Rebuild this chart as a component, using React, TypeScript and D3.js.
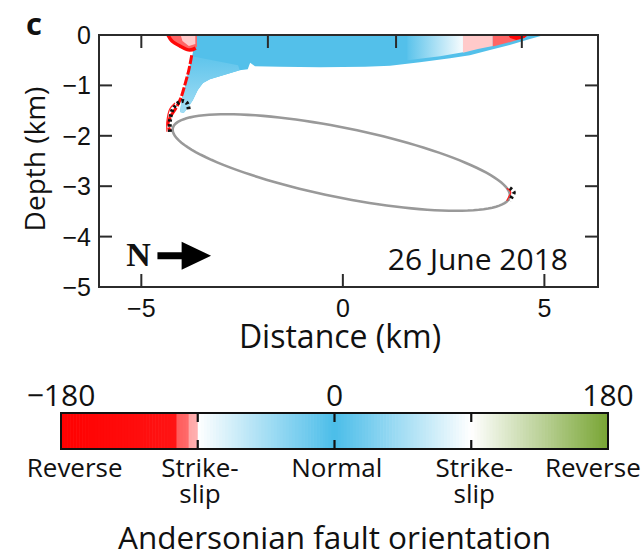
import React from "react";
import * as d3 from "d3";

// ---- axes ----
const xDomain = [-6.05, 6.33];
const yDomain = [-5, 0];
const xTicks = [-5, 0, 5];
const xTopTicks = [-5, -1.86, 1.32, 4.44];
const yTicks = [0, -1, -2, -3, -4, -5];

// ---- colour map for rake (degrees) ----
const rakeStops = [-180, -103.5, -103, -96.8, -96.5, -90.3, -90, 0, 90, 180];
const rakeColors = ["#ff0000", "#ff1414", "#ff5c5c", "#ff6a6a", "#ffa4a4", "#ffb0b0", "#ffffff", "#4bbde9", "#ffffff", "#78a534"];
const barTicks = [-180, 0, 180];
const barInnerTicks = [-90, 0, 90];
// label anchors along the bar, in degrees
const barLabels = [
  { v: -171, lines: ["Reverse"] },
  { v: -88.5, lines: ["Strike-", "slip"] },
  { v: 1.5, lines: ["Normal"] },
  { v: 92, lines: ["Strike-", "slip"] },
  { v: 170, lines: ["Reverse"] },
];

// ---- slip field patches: [distance km, depth km] and rake ----
const normalCore: [number, number][] = [
  [-3.65, 0], [5.0, 0], [4.64, -0.08], [4.14, -0.2], [3.65, -0.3],
  [3.15, -0.4], [2.66, -0.46], [1.91, -0.54], [1.17, -0.61], [0.55, -0.63],
  [-0.57, -0.64], [-1.56, -0.63], [-2.18, -0.62], [-2.3, -0.55], [-2.36, -0.68],
  [-2.56, -0.7], [-2.93, -0.79], [-3.3, -0.88], [-3.47, -0.95], [-3.6, -1.09],
  [-3.72, -1.29], [-3.85, -1.45], [-3.95, -1.55], [-4.04, -1.53], [-4.0, -1.29],
  [-3.92, -1.05], [-3.85, -0.79], [-3.77, -0.54], [-3.72, -0.34], [-3.7, -0.14],
];
const normalCoreRake = -4;
const leftWedge: [number, number][] = [
  [-3.75, -0.42], [-2.6, -0.6], [-2.56, -0.7], [-2.93, -0.79], [-3.3, -0.88],
  [-3.47, -0.95], [-3.6, -1.09], [-3.72, -1.29], [-3.85, -1.45], [-3.95, -1.55],
  [-4.04, -1.53], [-4.0, -1.29], [-3.92, -1.05], [-3.85, -0.79], [-3.8, -0.6],
];
const leftWedgeRake = [-12, -44];
const rightFade: [number, number][] = [
  [1.6, 0], [2.98, 0], [2.98, -0.34], [2.41, -0.42], [1.6, -0.5],
];
const rightFadeRake = [-8, -86];
const whitePatch: [number, number][] = [
  [2.98, 0], [3.72, 0], [3.72, -0.22], [3.35, -0.28], [2.98, -0.35],
];
const whitePatchRake = -90.2;
const pinkPatch: [number, number][] = [
  [3.72, 0], [4.6, 0], [4.5, -0.06], [4.2, -0.13], [3.72, -0.23],
];
const pinkPatchRake = -99;
const redPatchRight: [number, number][] = [
  [4.1, 0], [4.6, 0], [4.5, -0.06], [4.3, -0.1], [4.15, -0.06],
];
const redPatchRake = -150;
// shallow western lobe
const pinkPatchLeft: [number, number][] = [
  [-4.34, 0], [-3.62, 0], [-3.62, -0.24], [-3.8, -0.3], [-4.04, -0.22], [-4.24, -0.1],
];
const whitePatchLeft: [number, number][] = [
  [-4.02, -0.01], [-3.66, -0.01], [-3.66, -0.18], [-3.82, -0.22], [-3.98, -0.12],
];
const redRimLeft: [number, number][] = [
  [-4.34, 0], [-4.24, -0.12], [-4.04, -0.22], [-3.8, -0.3], [-3.65, -0.26],
];

// reverse-slip rim along the western edge
const westRim: [number, number][] = [
  [-3.75, -0.4], [-3.82, -0.69], [-3.92, -0.99], [-4.02, -1.25], [-4.14, -1.45],
  [-4.27, -1.61], [-4.34, -1.77], [-4.29, -1.9],
];
// aftershock traces
const westQuakes: [number, number][] = [
  [-4.29, -1.92], [-4.29, -1.71], [-4.22, -1.47], [-4.09, -1.35], [-3.97, -1.31],
  [-3.87, -1.35], [-3.82, -1.49],
];
const eastQuakes: [number, number][] = [
  [4.14, -3.04], [4.24, -3.12], [4.19, -3.21], [4.14, -3.29],
];

// ---- source ellipse ----
const ellipseCenter = [-0.04, -2.53];
const ellipseMajor = [4.18, -0.68];
const ellipseMinor = [0.174, 0.675];

const W = 641;
const H = 558;
const plot = { left: 99, right: 598, top: 35, bottom: 287 };
const bar = { left: 61, right: 608, top: 413, bottom: 449 };

const labelFont = "'Open Sans', 'DejaVu Sans', sans-serif";
const tickFont = "'Liberation Sans', Arial, sans-serif";
const axisColor = "#2b2b2b";

export default function App() {
  const x = d3.scaleLinear().domain(xDomain).range([plot.left, plot.right]);
  const y = d3.scaleLinear().domain(yDomain).range([plot.bottom, plot.top]);
  const rakeColor = d3
    .scaleLinear<string>()
    .domain(rakeStops)
    .range(rakeColors)
    .interpolate(d3.interpolateRgb);
  const bx = d3.scaleLinear().domain([-180, 180]).range([bar.left, bar.right]);

  const poly = (pts: [number, number][]) =>
    d3.line<[number, number]>().x((d) => x(d[0])).y((d) => y(d[1]))(pts) + "Z";
  const path = (pts: [number, number][], curve = d3.curveCatmullRom) =>
    d3.line<[number, number]>().x((d) => x(d[0])).y((d) => y(d[1])).curve(curve)(pts) || "";

  const ellipsePts: [number, number][] = d3.range(0, 361, 3).map((deg) => {
    const t = (deg * Math.PI) / 180;
    return [
      ellipseCenter[0] + Math.cos(t) * ellipseMajor[0] + Math.sin(t) * ellipseMinor[0],
      ellipseCenter[1] + Math.cos(t) * ellipseMajor[1] + Math.sin(t) * ellipseMinor[1],
    ];
  });

  const barSteps = d3.range(-180, 180, 2);
  const tickLen = 13;
  const fmt = (t: number) => (t < 0 ? "\u2212" + Math.abs(t) : String(t));

  return (
    <svg
      width={W}
      height={H}
      viewBox={`0 0 ${W} ${H}`}
      style={{ position: "absolute", left: 0, top: 0, background: "#fff" }}
    >
      <defs>
        <linearGradient id="wedgeGrad" x1="0" y1={y(-0.5)} x2="0" y2={y(-1.55)} gradientUnits="userSpaceOnUse">
          <stop offset="0" stopColor={rakeColor(leftWedgeRake[0])} />
          <stop offset="1" stopColor={rakeColor(leftWedgeRake[1])} />
        </linearGradient>
        <linearGradient id="fadeGrad" x1={x(1.6)} y1="0" x2={x(2.98)} y2="0" gradientUnits="userSpaceOnUse">
          <stop offset="0" stopColor={rakeColor(rightFadeRake[0])} />
          <stop offset="1" stopColor={rakeColor(rightFadeRake[1])} />
        </linearGradient>
        <clipPath id="plotClip">
          <rect x={plot.left} y={plot.top} width={plot.right - plot.left} height={plot.bottom - plot.top} />
        </clipPath>
      </defs>

      {/* panel letter */}
      <text x={26} y={35} fontFamily={labelFont} fontWeight={700} fontSize={31} fill="#111">c</text>

      {/* slip field */}
      <g clipPath="url(#plotClip)">
        <path d={poly(normalCore)} fill={rakeColor(normalCoreRake)} />
        <path d={poly(leftWedge)} fill="url(#wedgeGrad)" />
        <path d={poly(rightFade)} fill="url(#fadeGrad)" />
        <path d={poly(whitePatch)} fill={rakeColor(whitePatchRake)} />
        <path d={poly(pinkPatch)} fill={rakeColor(pinkPatchRake)} />
        <path d={poly(redPatchRight)} fill={rakeColor(redPatchRake)} />
        <path d={poly(pinkPatchLeft)} fill={rakeColor(pinkPatchRake)} />
        <path d={poly(whitePatchLeft)} fill={rakeColor(whitePatchRake)} />
        <path d={path(redRimLeft)} fill="none" stroke={rakeColor(redPatchRake)} strokeWidth={3.5} />
        <path
          d={path(westRim)}
          fill="none"
          stroke={rakeColor(redPatchRake)}
          strokeWidth={3}
          strokeDasharray="9 2"
        />
        <path d={poly(ellipsePts)} fill="none" stroke="#999" strokeWidth={2.6} />
        <path
          d={path(westQuakes)}
          fill="none"
          stroke="#111"
          strokeWidth={4}
          strokeDasharray="2.5 2.5"
        />
        <path d={path(westQuakes.slice(0, 4))} fill="none" stroke="#ff2020" strokeWidth={1.2} transform="translate(-3,0)" />
        <path
          d={path(eastQuakes)}
          fill="none"
          stroke="#111"
          strokeWidth={4}
          strokeDasharray="2.5 2.5"
        />
        <path d={path(eastQuakes)} fill="none" stroke="#ff2020" strokeWidth={1.2} transform="translate(-3,0)" />
      </g>

      {/* frame and ticks */}
      <rect
        x={plot.left}
        y={plot.top}
        width={plot.right - plot.left}
        height={plot.bottom - plot.top}
        fill="none"
        stroke={axisColor}
        strokeWidth={2}
      />
      {xTicks.map((t) => (
        <g key={"xb" + t}>
          <line x1={x(t)} x2={x(t)} y1={plot.bottom} y2={plot.bottom - tickLen} stroke={axisColor} strokeWidth={2} />
          <text x={x(t)} y={plot.bottom + 30} textAnchor="middle" fontFamily={tickFont} fontSize={25} fill="#111">
            {fmt(t)}
          </text>
        </g>
      ))}
      {xTopTicks.map((t) => (
        <line key={"xt" + t} x1={x(t)} x2={x(t)} y1={plot.top} y2={plot.top + tickLen} stroke={axisColor} strokeWidth={2} />
      ))}
      {yTicks.map((t) => (
        <g key={"y" + t}>
          <line x1={plot.left} x2={plot.left + tickLen} y1={y(t)} y2={y(t)} stroke={axisColor} strokeWidth={2} />
          <line x1={plot.right} x2={plot.right - tickLen} y1={y(t)} y2={y(t)} stroke={axisColor} strokeWidth={2} />
          <text x={plot.left - 8} y={y(t) + 9} textAnchor="end" fontFamily={tickFont} fontSize={25} fill="#111">
            {fmt(t)}
          </text>
        </g>
      ))}

      {/* axis titles */}
      <text x={x(-0.07)} y={348} textAnchor="middle" fontFamily={labelFont} fontSize={32} fill="#111">
        Distance (km)
      </text>
      <text
        transform={`translate(45, 159) rotate(-90)`}
        textAnchor="middle"
        fontFamily={labelFont}
        fontSize={28}
        fill="#111"
      >
        Depth (km)
      </text>

      {/* north arrow and date */}
      <text x={x(-5.07)} y={y(-4.58)} textAnchor="middle" fontFamily="'Liberation Serif', 'DejaVu Serif', serif" fontWeight={700} fontSize={34} fill="#111">
        N
      </text>
      <path
        d={`M${x(-4.6)},${y(-4.31)} L${x(-4.0)},${y(-4.31)} L${x(-4.0)},${y(-4.1)} L${x(-3.27)},${y(-4.38)} L${x(-4.0)},${y(-4.66)} L${x(-4.0)},${y(-4.45)} L${x(-4.6)},${y(-4.45)} Z`}
        fill="#000"
      />
      <text x={plot.right - 30} y={y(-4.66)} textAnchor="end" fontFamily={labelFont} fontSize={30} fill="#111">
        26 June 2018
      </text>

      {/* colour bar */}
      {barSteps.map((v) => (
        <rect key={"b" + v} x={bx(v)} y={bar.top} width={bx(v + 2) - bx(v) + 0.6} height={bar.bottom - bar.top} fill={rakeColor(v + 1)} />
      ))}
      <rect x={bar.left} y={bar.top} width={bar.right - bar.left} height={bar.bottom - bar.top} fill="none" stroke="#111" strokeWidth={2} />
      {barInnerTicks.map((v) => (
        <g key={"bt" + v}>
          <line x1={bx(v)} x2={bx(v)} y1={bar.top} y2={bar.top + 9} stroke="#111" strokeWidth={2.2} />
          <line x1={bx(v)} x2={bx(v)} y1={bar.bottom} y2={bar.bottom - 9} stroke="#111" strokeWidth={2.2} />
        </g>
      ))}
      {barTicks.map((v) => (
        <text key={"bl" + v} x={bx(v)} y={bar.top - 7} textAnchor="middle" fontFamily={labelFont} fontSize={30} fill="#111">
          {fmt(v)}
        </text>
      ))}
      {barLabels.map((l) => (
        <text key={"lab" + l.v} textAnchor="middle" fontFamily={labelFont} fontSize={26} fill="#111">
          {l.lines.map((s, i) => (
            <tspan key={i} x={bx(l.v)} y={bar.bottom + 28 + i * 26}>
              {s}
            </tspan>
          ))}
        </text>
      ))}
      <text x={(bar.left + bar.right) / 2} y={549} textAnchor="middle" fontFamily={labelFont} fontSize={31.5} fill="#111">
        Andersonian fault orientation
      </text>
    </svg>
  );
}
